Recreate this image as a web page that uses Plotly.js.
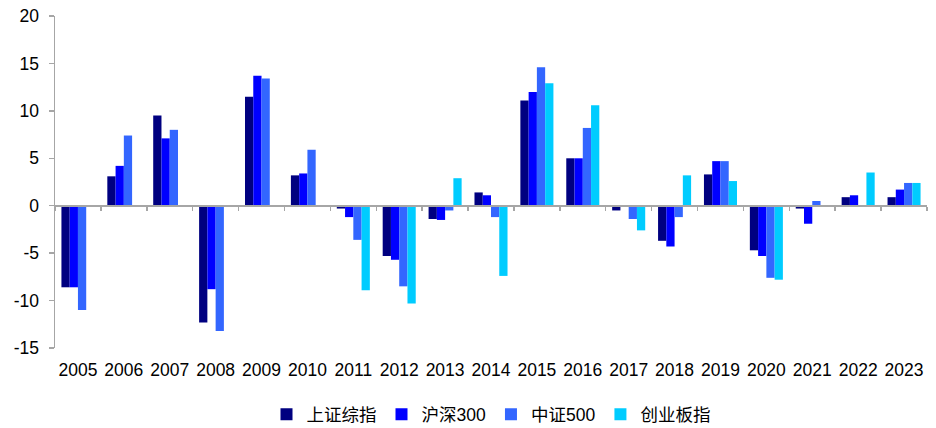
<!DOCTYPE html>
<html>
<head>
<meta charset="utf-8">
<script src="https://cdn.plot.ly/plotly-3.0.1.min.js"></script>
<style>html,body{margin:0;padding:0;background:#fff;}#chart{width:936px;height:428px;}</style>
</head>
<body>
<div id="chart"></div>
<script>
const years = ['2005','2006','2007','2008','2009','2010','2011','2012','2013','2014','2015','2016','2017','2018','2019','2020','2021','2022','2023'];
const seriesNames = ['上证综指','沪深300','中证500','创业板指'];
const sse   = [-8.6, 3.1, 9.5, -12.3, 11.5, 3.2, -0.3, -5.3, -1.4, 1.4, 11.1, 5.0, -0.5, -3.7, 3.3, -4.7, -0.3, 0.9, 0.9];
const hs300 = [-8.6, 4.2, 7.1, -8.8, 13.7, 3.4, -1.2, -5.7, -1.5, 1.1, 12.0, 5.0, -0.05, -4.3, 4.7, -5.3, -1.9, 1.1, 1.7];
const zz500 = [-11.0, 7.4, 8.0, -13.2, 13.4, 5.9, -3.6, -8.5, -0.5, -1.2, 14.6, 8.2, -1.4, -1.2, 4.7, -7.6, 0.5, 0.05, 2.4];
const cyb   = [null, null, null, null, null, null, -8.9, -10.3, 2.9, -7.4, 12.9, 10.6, -2.6, 3.2, 2.6, -7.8, -0.05, 3.5, 2.4];
const colors = ['#000080', '#0000FF', '#3366FF', '#00CCFF'];
const yTicks = [-15, -10, -5, 0, 5, 10, 15, 20];

const allSeries = [sse, hs300, zz500, cyb];
const traces = allSeries.map((vals, i) => ({
  type: 'bar',
  name: seriesNames[i],
  x: years,
  y: vals,
  marker: {color: colors[i], line: {width: 0}},
  hoverinfo: 'x+y+name'
}));
// invisible helper trace carrying the baseline axis with boundary ticks
traces.push({
  type: 'scatter', mode: 'lines', x: years, y: years.map(() => 0),
  xaxis: 'x2', yaxis: 'y', line: {width: 0, color: 'rgba(0,0,0,0)'},
  showlegend: false, hoverinfo: 'skip'
});

const font = {family: 'Liberation Sans, Arial, "Noto Sans CJK SC", sans-serif', size: 17.5, color: '#000'};

const layout = {
  width: 936, height: 428,
  margin: {l: 55, r: 9, t: 16, b: 80, autoexpand: false},
  paper_bgcolor: '#fff', plot_bgcolor: '#fff',
  font: font,
  barmode: 'group',
  bargap: 0.28,
  bargroupgap: 0,
  showlegend: true,
  legend: {
    orientation: 'h', x: 0.5, xanchor: 'center', y: -0.2, yanchor: 'middle',
    font: {family: 'Liberation Sans, "Noto Sans CJK SC", sans-serif', size: 17.5, color: '#000'},
    itemwidth: 30, traceorder: 'normal'
  },
  xaxis: {
    type: 'category', range: [-0.5, 18.5], showline: false, ticks: '',
    showgrid: false, zeroline: false, tickfont: font, ticklabelstandoff: 9
  },
  xaxis2: {
    type: 'category', overlaying: 'x', anchor: 'free', position: 15/35,
    range: [-0.5, 18.5], showline: true, linecolor: '#A6A6A6', linewidth: 2,
    ticks: 'outside', tickson: 'boundaries', ticklen: 4, tickwidth: 1.5, tickcolor: '#A6A6A6',
    showticklabels: false, showgrid: false, zeroline: false
  },
  yaxis: {
    range: [-15, 20], tickvals: yTicks, ticktext: yTicks.map(String),
    showline: true, linecolor: '#A6A6A6', linewidth: 1.5,
    ticks: 'outside', ticklen: 5, tickwidth: 1.5, tickcolor: '#A6A6A6',
    showgrid: false, zeroline: false, tickfont: font, ticklabelstandoff: 6
  }
};

Plotly.newPlot('chart', traces, layout, {displayModeBar: false, staticPlot: true});
</script>
</body>
</html>
